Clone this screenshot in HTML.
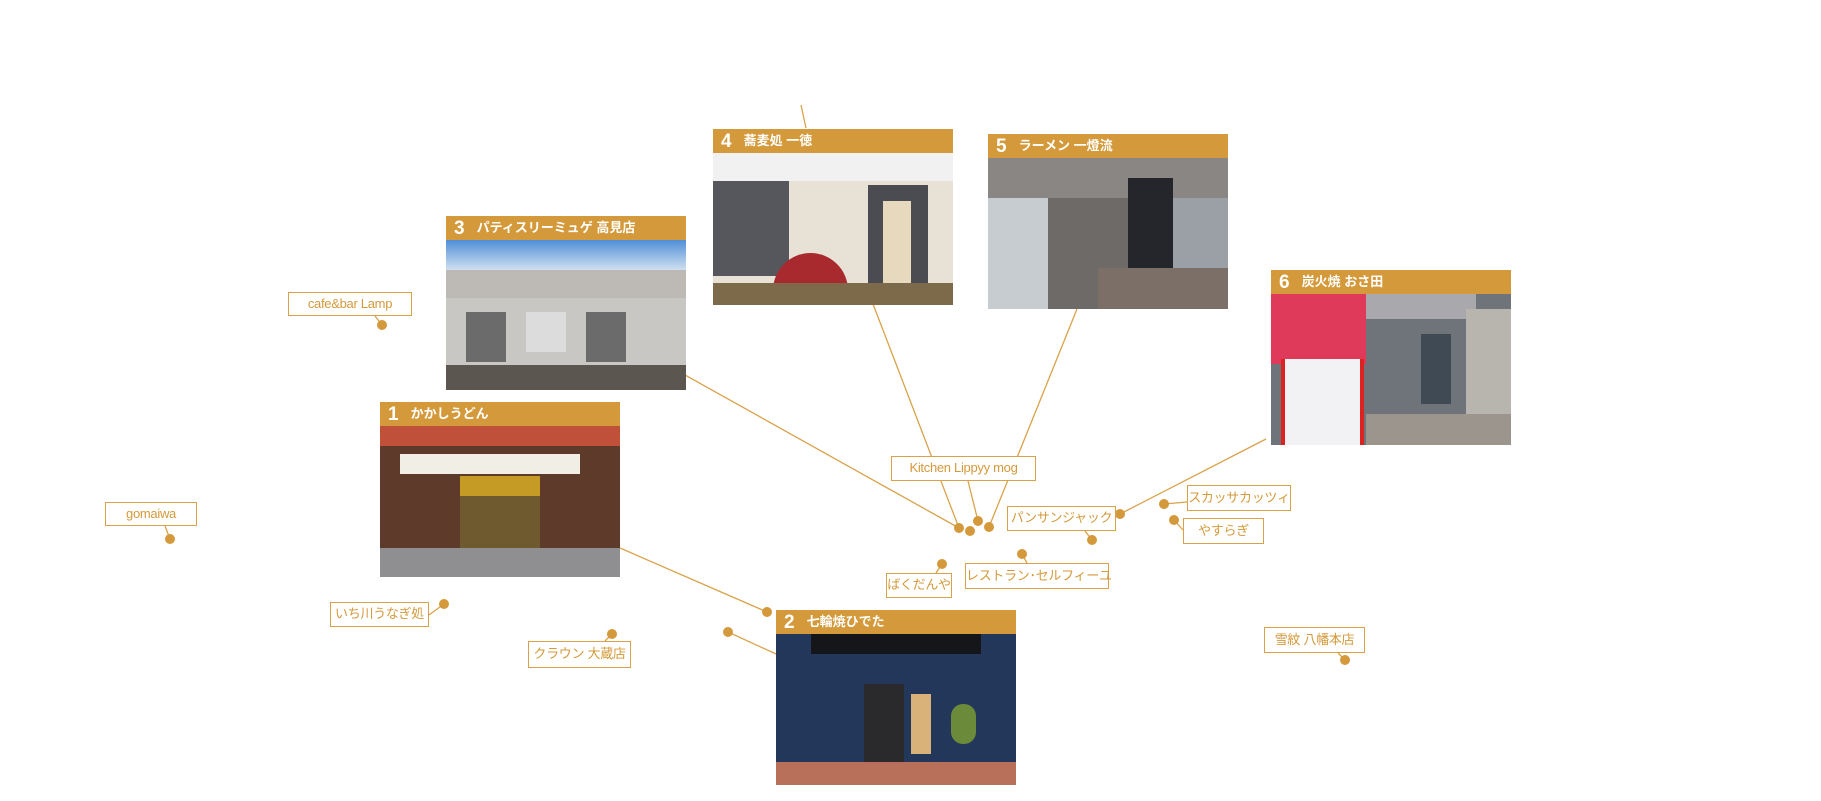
<!DOCTYPE html>
<html><head><meta charset="utf-8"><style>
body{margin:0;width:1821px;height:801px;background:#fff;position:relative;overflow:hidden;font-family:"Liberation Sans","Noto Sans CJK JP",sans-serif}
.card{position:absolute;width:240px}
.hd{height:24px;background:#D4993A;color:#fff;font-weight:bold;font-size:13px;line-height:24px;padding-left:8px;white-space:nowrap}
.hd b{font-size:19px;margin-right:12px;vertical-align:-2px}
.ph{position:relative;overflow:hidden;height:151px}
.ph div{position:absolute}
.lb{position:absolute;border:1.5px solid #D9A24A;background:#fff;color:#D4993A;font-size:13px;letter-spacing:-0.3px;text-align:center;box-sizing:border-box;white-space:nowrap}
svg{position:absolute;left:0;top:0}
</style></head><body>
<svg width="1821" height="801">
<g stroke="#D9A24A" stroke-width="1.3" fill="none">
<line x1="801" y1="105" x2="806" y2="128"/>
<line x1="685" y1="375" x2="959" y2="528"/>
<line x1="873" y1="304" x2="959" y2="528"/>
<line x1="968" y1="481" x2="978" y2="521"/>
<line x1="1077" y1="309" x2="989" y2="527"/>
<line x1="1266" y1="439" x2="1120" y2="514"/>
<line x1="620" y1="548" x2="767" y2="612"/>
<line x1="728" y1="632" x2="776" y2="654"/>
<line x1="375" y1="316" x2="382" y2="325"/>
<line x1="165" y1="526" x2="170" y2="539"/>
<line x1="429" y1="615" x2="444" y2="604"/>
<line x1="605" y1="641" x2="612" y2="634"/>
<line x1="1085" y1="531" x2="1092" y2="540"/>
<line x1="1187" y1="502" x2="1164" y2="504"/>
<line x1="1183" y1="530" x2="1174" y2="520"/>
<line x1="936" y1="573" x2="942" y2="564"/>
<line x1="1027" y1="563" x2="1022" y2="554"/>
<line x1="1338" y1="653" x2="1345" y2="660"/>
</g>
<g fill="#D4993A">
<circle cx="382" cy="325" r="5"/><circle cx="170" cy="539" r="5"/><circle cx="444" cy="604" r="5"/><circle cx="612" cy="634" r="5"/>
<circle cx="959" cy="528" r="5"/><circle cx="970" cy="531" r="5"/><circle cx="978" cy="521" r="5"/><circle cx="989" cy="527" r="5"/>
<circle cx="1120" cy="514" r="5"/><circle cx="1092" cy="540" r="5"/><circle cx="1164" cy="504" r="5"/><circle cx="1174" cy="520" r="5"/>
<circle cx="942" cy="564" r="5"/><circle cx="1022" cy="554" r="5"/><circle cx="1345" cy="660" r="5"/>
<circle cx="767" cy="612" r="5"/><circle cx="728" cy="632" r="5"/>
</g>
</svg>

<div class="card" style="left:446px;top:216px"><div class="hd"><b>3</b>パティスリーミュゲ 高見店</div>
<div class="ph" style="height:150px;background:#c9c7c3">
<div style="left:0;top:0;width:240px;height:30px;background:linear-gradient(#4f8fd6,#cfe0f0)"></div>
<div style="left:0;top:30px;width:240px;height:28px;background:#bdbab5"></div>
<div style="left:20px;top:72px;width:40px;height:50px;background:#6b6b6b"></div>
<div style="left:80px;top:72px;width:40px;height:40px;background:#dcdcdc"></div>
<div style="left:140px;top:72px;width:40px;height:50px;background:#6b6b6b"></div>
<div style="left:0;top:125px;width:240px;height:25px;background:#5b5650"></div>
</div></div>

<div class="card" style="left:713px;top:129px"><div class="hd"><b>4</b>蕎麦処 一徳</div>
<div class="ph" style="height:152px;background:#e8e2d6">
<div style="left:0;top:0;width:240px;height:28px;background:#f1f1f1"></div>
<div style="left:0;top:28px;width:76px;height:95px;background:#55575d"></div>
<div style="left:155px;top:32px;width:60px;height:105px;background:#4a4c52"></div>
<div style="left:170px;top:48px;width:28px;height:82px;background:#e6d9be"></div>
<div style="left:60px;top:100px;width:75px;height:52px;background:#a82a2f;border-radius:40px 40px 0 0"></div>
<div style="left:0;top:130px;width:240px;height:22px;background:#7d6a4a"></div>
</div></div>

<div class="card" style="left:988px;top:134px"><div class="hd"><b>5</b>ラーメン 一燈流</div>
<div class="ph" style="height:151px;background:#6d6a68">
<div style="left:0;top:0;width:240px;height:40px;background:#8a8683"></div>
<div style="left:0;top:40px;width:60px;height:111px;background:#c7ccd0"></div>
<div style="left:140px;top:20px;width:45px;height:110px;background:#25262c"></div>
<div style="left:185px;top:40px;width:55px;height:111px;background:#9aa0a5"></div>
<div style="left:110px;top:110px;width:130px;height:41px;background:#7c6f68"></div>
</div></div>

<div class="card" style="left:1271px;top:270px"><div class="hd"><b>6</b>炭火焼 おさ田</div>
<div class="ph" style="height:151px;background:#6f737a">
<div style="left:0;top:0;width:95px;height:70px;background:#e03a5a"></div>
<div style="left:10px;top:65px;width:75px;height:86px;background:#f2f2f4;border-left:4px solid #d22;border-right:4px solid #d22"></div>
<div style="left:95px;top:0;width:110px;height:25px;background:#a9a9ad"></div>
<div style="left:150px;top:40px;width:30px;height:70px;background:#3f4a55"></div>
<div style="left:195px;top:15px;width:45px;height:136px;background:#b8b4ae"></div>
<div style="left:95px;top:120px;width:145px;height:31px;background:#9b958e"></div>
</div></div>

<div class="card" style="left:380px;top:402px"><div class="hd"><b>1</b>かかしうどん</div>
<div class="ph" style="height:151px;background:#5e3a2a">
<div style="left:0;top:0;width:240px;height:20px;background:#c0503a"></div>
<div style="left:20px;top:28px;width:180px;height:20px;background:#f1eee6"></div>
<div style="left:80px;top:50px;width:80px;height:20px;background:#c59a25"></div>
<div style="left:80px;top:70px;width:80px;height:55px;background:#6e5a2e"></div>
<div style="left:0;top:122px;width:240px;height:29px;background:#8f8f92"></div>
</div></div>

<div class="card" style="left:776px;top:610px"><div class="hd"><b>2</b>七輪焼ひでた</div>
<div class="ph" style="height:151px;background:#22375a">
<div style="left:35px;top:0;width:170px;height:20px;background:#15161a"></div>
<div style="left:88px;top:50px;width:40px;height:80px;background:#2a2a2d"></div>
<div style="left:135px;top:60px;width:20px;height:60px;background:#d9b27a"></div>
<div style="left:175px;top:70px;width:25px;height:40px;background:#6b8a3a;border-radius:12px"></div>
<div style="left:0;top:128px;width:240px;height:23px;background:#b8705a"></div>
</div></div>

<div class="lb" style="left:288px;top:292px;width:124px;height:24px;line-height:21px">cafe&amp;bar Lamp</div>
<div class="lb" style="left:105px;top:502px;width:92px;height:24px;line-height:21px">gomaiwa</div>
<div class="lb" style="left:330px;top:602px;width:99px;height:25px;line-height:22px">いち川うなぎ処</div>
<div class="lb" style="left:528px;top:641px;width:103px;height:27px;line-height:24px">クラウン 大蔵店</div>
<div class="lb" style="left:891px;top:456px;width:145px;height:25px;line-height:22px">Kitchen Lippyy mog</div>
<div class="lb" style="left:1007px;top:506px;width:109px;height:25px;line-height:22px">パンサンジャック</div>
<div class="lb" style="left:1187px;top:485px;width:104px;height:26px;line-height:23px">スカッサカッツィ</div>
<div class="lb" style="left:1183px;top:518px;width:81px;height:26px;line-height:23px">やすらぎ</div>
<div class="lb" style="left:886px;top:573px;width:66px;height:25px;line-height:22px">ばくだんや</div>
<div class="lb" style="left:965px;top:563px;width:144px;height:26px;line-height:23px">レストラン･セルフィーユ</div>
<div class="lb" style="left:1264px;top:627px;width:101px;height:26px;line-height:23px">雪紋 八幡本店</div>
</body></html>
